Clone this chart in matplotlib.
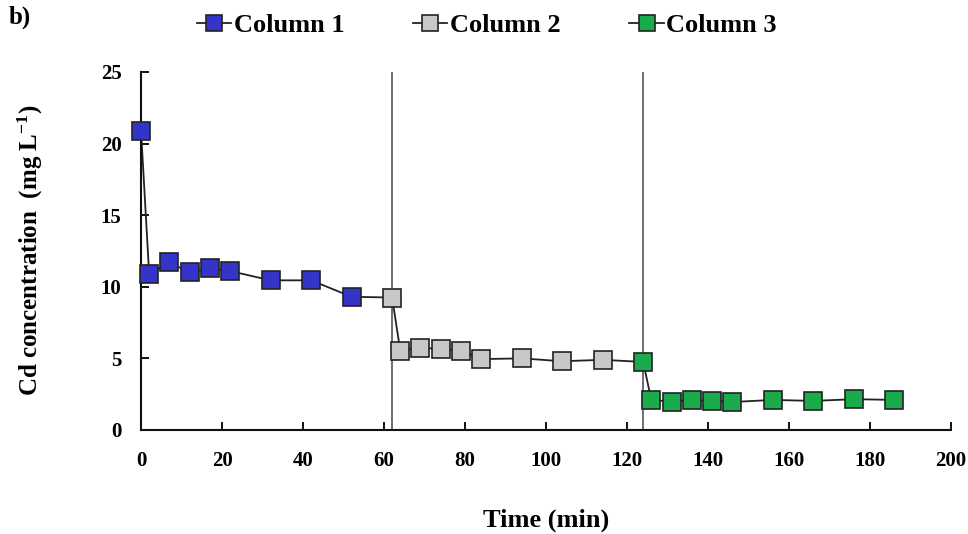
import numpy as np
import matplotlib
matplotlib.use("Agg")
import matplotlib.pyplot as plt

# temps (min) et concentrations
t_col1 = [0, 2, 7, 12, 17, 22, 32, 42, 52]
cd_col1 = [20.9, 10.9, 11.7, 11.0, 11.3, 11.1, 10.45, 10.45, 9.3]

t_col2 = [62, 64, 69, 74, 79, 84, 94, 104, 114]
cd_col2 = [9.25, 5.55, 5.75, 5.65, 5.55, 4.95, 5.0, 4.8, 4.9]

t_col3 = [124, 126, 131, 136, 141, 146, 156, 166, 176, 186]
cd_col3 = [4.75, 2.1, 1.98, 2.1, 2.03, 1.95, 2.1, 2.03, 2.15, 2.1]

switch_times = [62, 124]

labels = ["Column 1", "Column 2", "Column 3"]
colors = ["#3434c8", "#c8c8c8", "#1aab4c"]

plt.rcParams["font.family"] = "Liberation Serif"
plt.rcParams["font.weight"] = "bold"
plt.rcParams["mathtext.fontset"] = "custom"
plt.rcParams["mathtext.rm"] = "Liberation Serif:bold"
plt.rcParams["mathtext.default"] = "rm"

fig = plt.figure(figsize=(9.68, 5.34), dpi=100)
ax = fig.add_axes([0.1457, 0.1948, 0.8367, 0.6704])

for xv in switch_times:
    ax.axvline(xv, color="#555555", lw=1.2, zorder=1)

# ligne continue entre toutes les colonnes
t_all = t_col1 + t_col2 + t_col3
cd_all = cd_col1 + cd_col2 + cd_col3
ax.plot(t_all, cd_all, color="#222222", lw=1.3, zorder=2, clip_on=False)

handles = []
for t, cd, c, lab in zip([t_col1, t_col2, t_col3], [cd_col1, cd_col2, cd_col3], colors, labels):
    ax.plot(t, cd, ls="none", marker="s", ms=13, mfc=c, mec="#222222", mew=1.2,
            zorder=3, clip_on=False)
    h, = ax.plot([], [], color="#222222", lw=1.3, marker="s", ms=11,
                 mfc=c, mec="#222222", mew=1.2, label=lab)
    handles.append(h)

ax.set_xlim(0, 200)
ax.set_ylim(0, 25)
ax.set_xticks(np.arange(0, 201, 20))
ax.set_yticks(np.arange(0, 26, 5))

for side in ["top", "right"]:
    ax.spines[side].set_visible(False)
for side in ["left", "bottom"]:
    ax.spines[side].set_linewidth(1.5)
    ax.spines[side].set_color("#111111")

ax.tick_params(direction="in", length=6, width=1.3, labelsize=15)
ax.tick_params(axis="x", pad=15)
ax.tick_params(axis="y", pad=14)
for lab in ax.get_xticklabels() + ax.get_yticklabels():
    lab.set_fontweight("bold")

ax.set_xlabel("Time (min)", fontsize=19, fontweight="bold")
ax.set_ylabel("Cd concentration  (mg L$^{-1}$)", fontsize=18, fontweight="bold")
ax.xaxis.set_label_coords(0.5, -0.251)
ax.yaxis.set_label_coords(-0.137, 0.503)
ax.xaxis.label.set_va("center")
ax.yaxis.label.set_va("center")

fig.legend(handles=handles, loc="center", bbox_to_anchor=(0.503, 0.953), ncol=3,
           frameon=False, handlelength=1.3, handletextpad=0.1,
           columnspacing=2.6, prop={"weight": "bold", "size": 19})

fig.text(0.009, 0.967, "b)", fontsize=18, fontweight="bold", va="center")

fig.savefig("out.png", dpi=100)
plt.close()
